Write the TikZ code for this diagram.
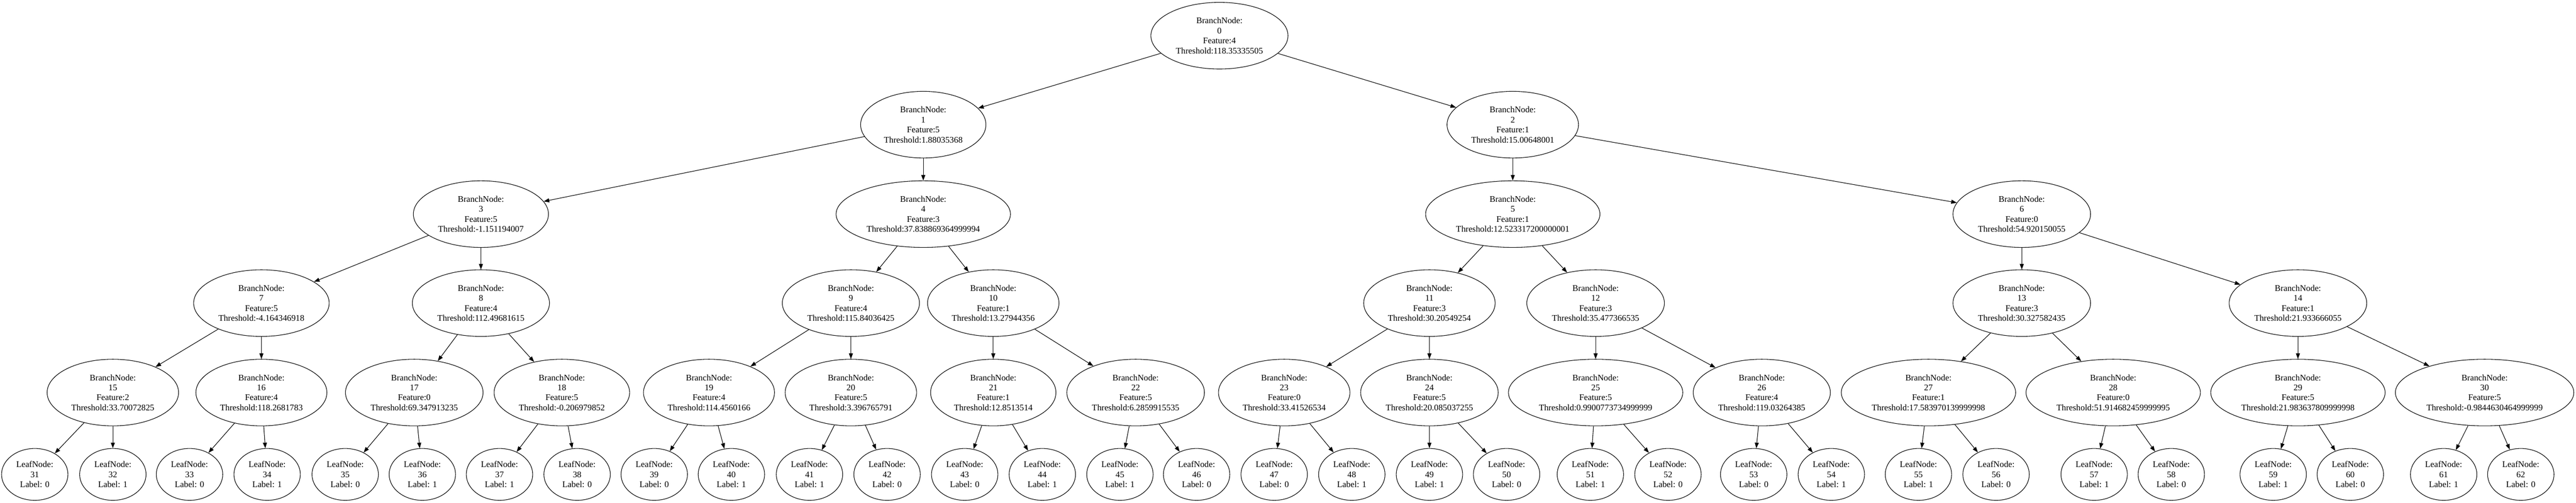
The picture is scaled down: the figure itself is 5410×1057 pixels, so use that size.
\documentclass[tikz,border=0pt]{standalone}
\usepackage{fontspec}
\setmainfont{Liberation Serif}
\usetikzlibrary{arrows.meta,shapes.geometric}

\begin{document}
\begin{tikzpicture}[>={Triangle[length=9pt,width=6.5pt]}, x=0.7692pt, y=-0.7692pt,
    branchnode/.style={draw, ellipse, line width=0.9pt, align=center, inner xsep=8pt, inner ysep=2pt,
      minimum height=107.7pt, font=\fontsize{14}{16.2}\selectfont},
    leafnode/.style={branchnode, minimum height=83.8pt},
    treeedge/.style={line width=0.9pt, ->}]
      \useasboundingbox (0,0) rectangle (5410,1057);

      % Nodos de rama
      \foreach \n/\x/\y/\f/\t in {0/2561/75/4/118.35335505,
        1/1939/262/5/1.88035368, 2/3177/262/1/15.00648001,
        3/1010/450/5/-1.151194007, 4/1939/450/3/37.838869364999994,
        5/3177/450/1/12.523317200000001, 6/4246/450/0/54.920150055,
        7/549/637/5/-4.164346918, 8/1010/637/4/112.49681615,
        9/1787/637/4/115.84036425, 10/2086/637/1/13.27944356,
        11/3002/637/3/30.20549254, 12/3351/637/3/35.477366535,
        13/4246/637/3/30.327582435, 14/4826/637/1/21.933666055,
        15/237/825/2/33.70072825, 16/549/825/4/118.2681783,
        17/870/825/0/69.347913235, 18/1180/825/5/-0.206979852,
        19/1489/825/4/114.4560166, 20/1787/825/5/3.396765791,
        21/2086/825/1/12.8513514, 22/2385/825/5/6.2859915535,
        23/2697/825/0/33.41526534, 24/3002/825/5/20.085037255,
        25/3351/825/5/0.9900773734999999, 26/3700/825/4/119.03264385,
        27/4050/825/1/17.583970139999998, 28/4438/825/0/51.914682459999995,
        29/4826/825/5/21.983637809999998, 30/5218/825/5/-0.9844630464999999} {
        \node[branchnode] (n\n) at (\x,\y) {BranchNode:\\\n\\Feature:\f\\Threshold:\t};
      }

      % Hojas
      \foreach \n/\x/\l in {31/73/0, 32/237/1, 33/398/0, 34/561/1, 35/725/0, 36/887/1,
        37/1049/1, 38/1212/0, 39/1374/0, 40/1536/1, 41/1700/1, 42/1863/0, 43/2026/0,
        44/2189/1, 45/2352/1, 46/2513/0, 47/2676/0, 48/2839/1, 49/3002/1, 50/3164/0,
        51/3340/1, 52/3503/0, 53/3683/0, 54/3846/1, 55/4029/1, 56/4192/0, 57/4398/1,
        58/4560/0, 59/4774/1, 60/4936/0, 61/5132/1, 62/5294/0} {
        \node[leafnode] (n\n) at (\x,997) {LeafNode:\\\n\\Label: \l};
      }

      % Aristas padre -> hijo
      \foreach \b in {1,...,62} {
        \pgfmathtruncatemacro\a{(\b-1)/2}
        \draw[treeedge] (n\a) -- (n\b);
      }
    \end{tikzpicture}
\end{document}
